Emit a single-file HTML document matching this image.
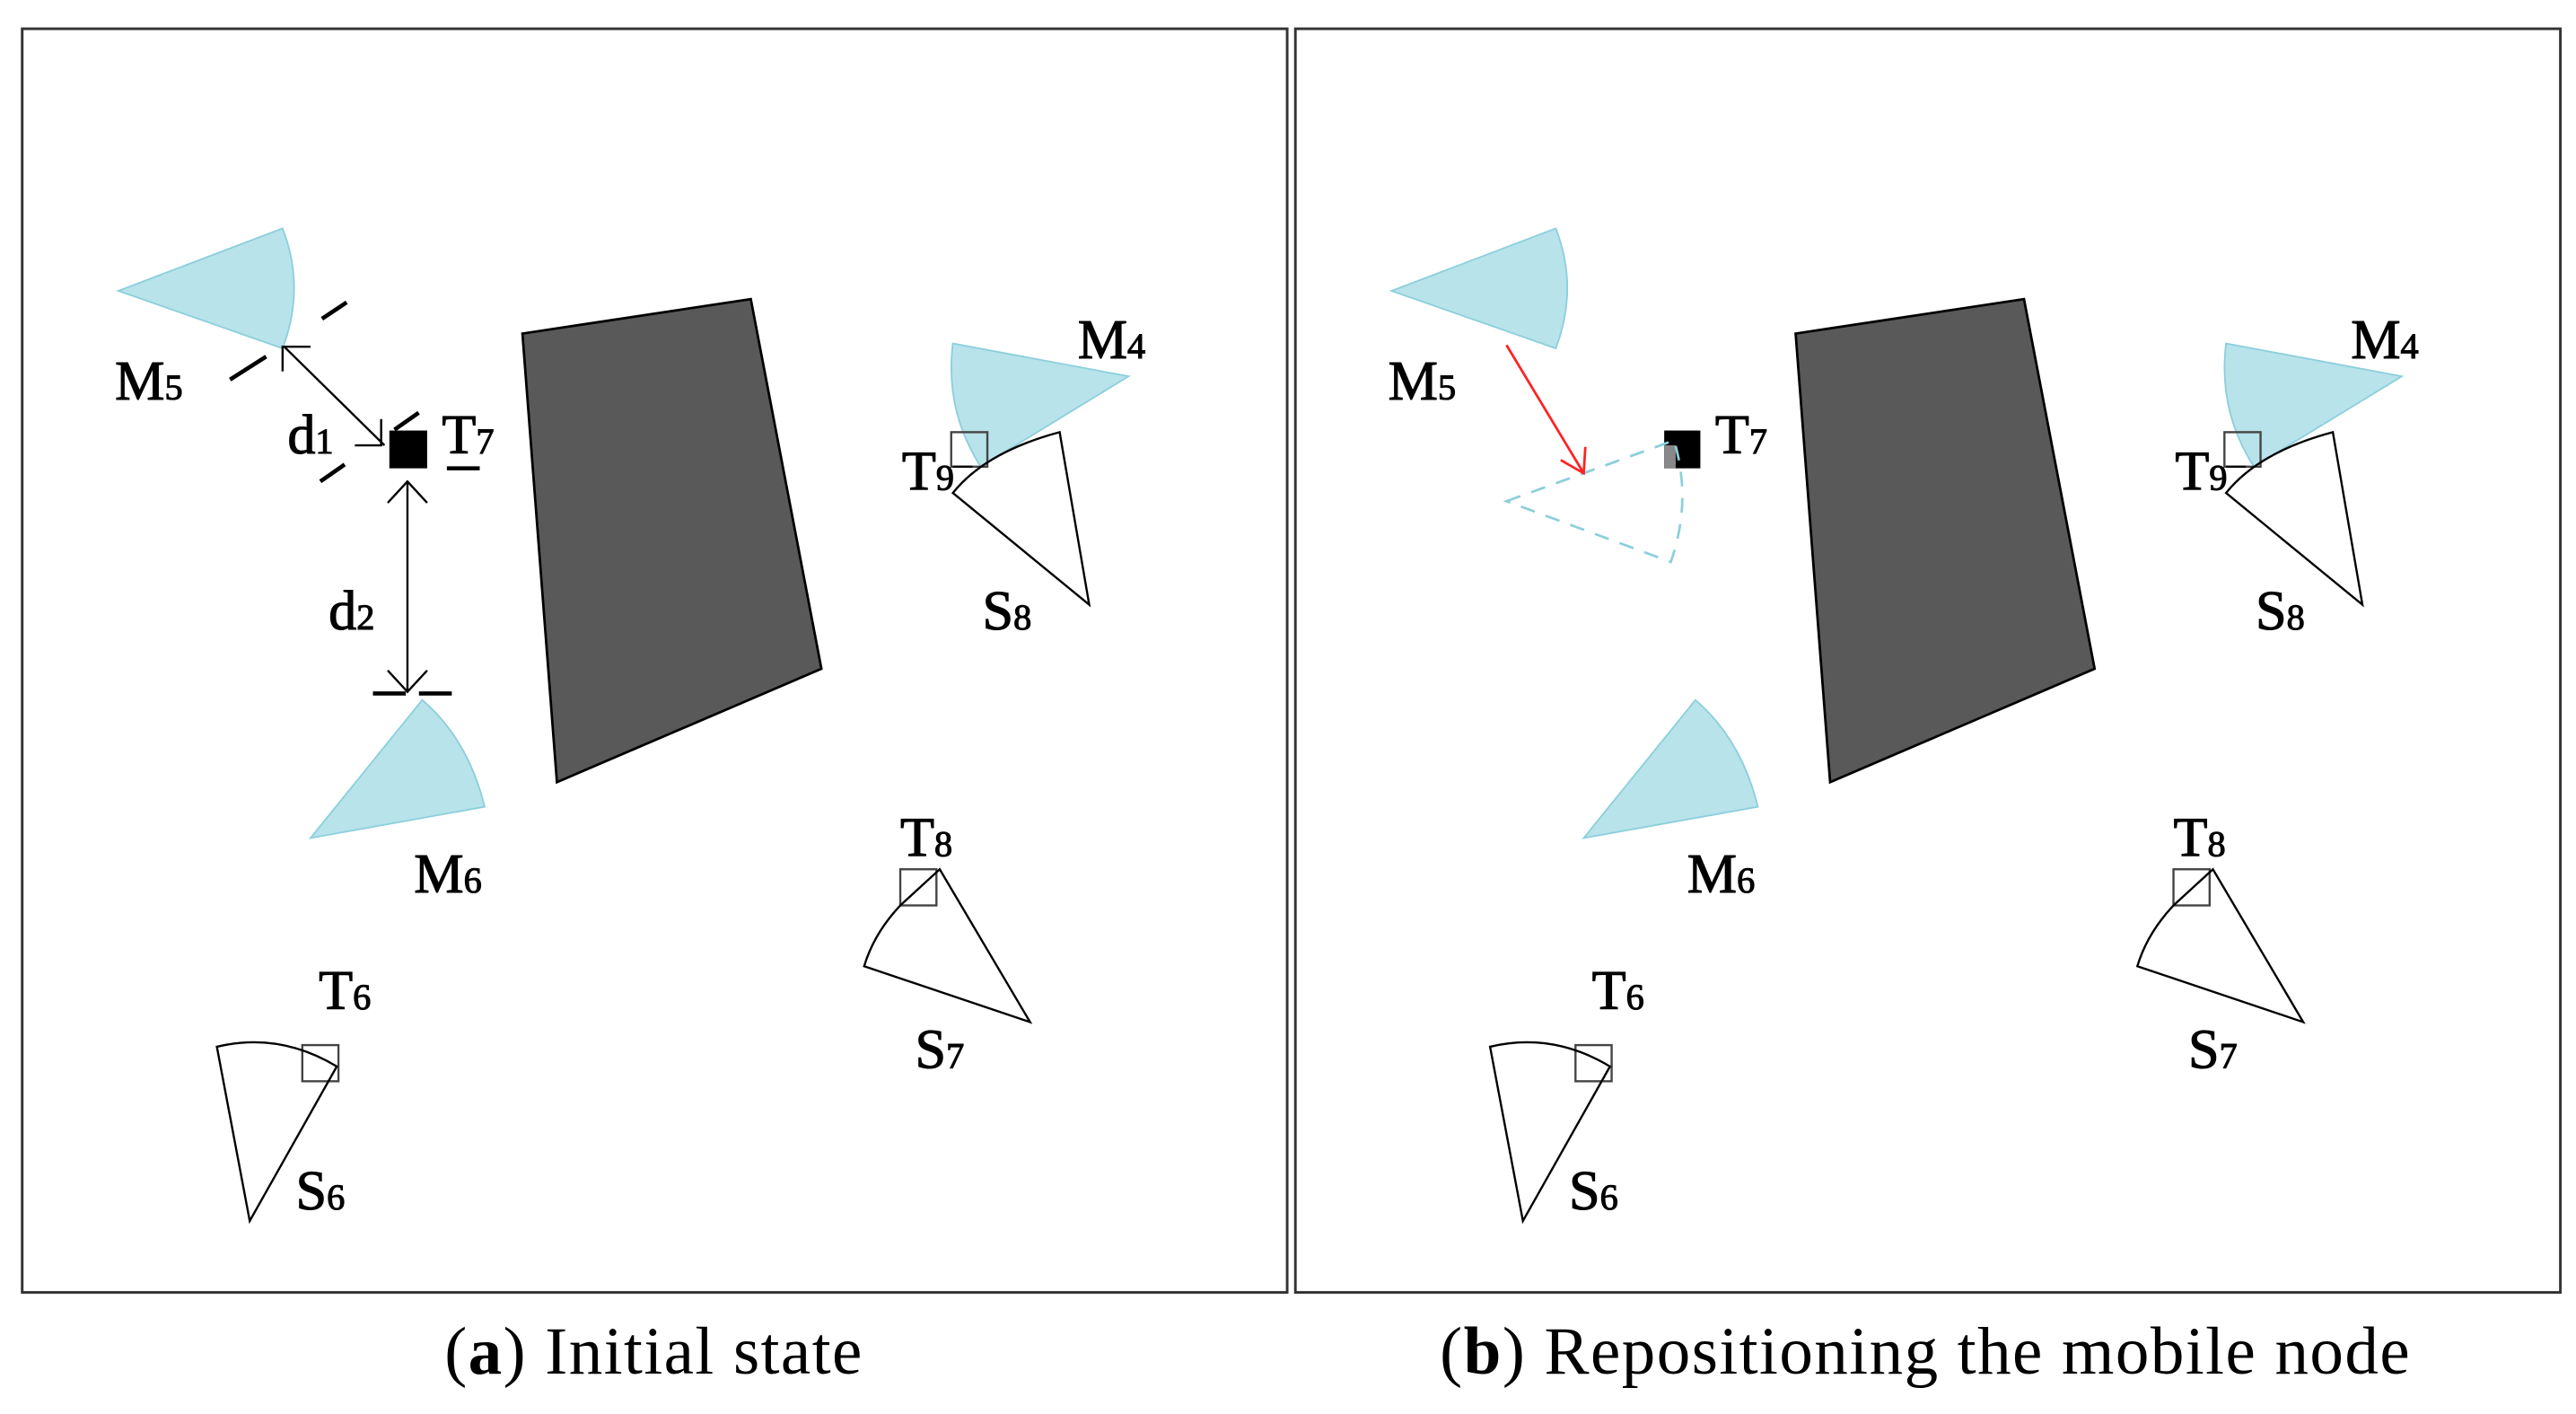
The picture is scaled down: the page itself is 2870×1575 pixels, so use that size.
<!DOCTYPE html>
<html><head><meta charset="utf-8"><style>html,body{margin:0;padding:0;background:#fff}svg{display:block}</style></head>
<body>
<svg width="2870" height="1575" viewBox="0 0 1568 860.5" xmlns="http://www.w3.org/2000/svg" font-family="Liberation Serif, serif">
<defs>
<g id="common">
  <polygon points="318,203 457,182 500,407 339,476" fill="#595959" stroke="#000" stroke-width="1.5"/>
  <path d="M189,510 L257,426 Q285,450 295,491 Z" fill="#b8e3ea" stroke="#8ccfdc" stroke-width="1"/>
  <path d="M687,229 L580,209 Q575,250 597,284 Z" fill="#b8e3ea" stroke="#8ccfdc" stroke-width="1"/>
  <rect x="579" y="263" width="22" height="21" fill="none" stroke="#444" stroke-width="1.3"/>
  <line x1="580" y1="284" x2="592" y2="284" stroke="#000" stroke-width="1.3"/>
  <path d="M645,263 Q600,275 580,300 L663,368 Z" fill="none" stroke="#000" stroke-width="1.3"/>
  <rect x="548" y="529" width="22" height="22" fill="none" stroke="#444" stroke-width="1.3"/>
  <path d="M572,529 L548,551 Q532,568 526,588 L627,622 Z" fill="none" stroke="#000" stroke-width="1.3"/>
  <rect x="184" y="636" width="22" height="22" fill="none" stroke="#444" stroke-width="1.3"/>
  <path d="M132,637 Q170,628 205,649 L152,743 Z" fill="none" stroke="#000" stroke-width="1.3"/>
  <g font-size="34" fill="#000" stroke="#000" stroke-width="0.6">
    <text x="70" y="243">M<tspan font-size="22">5</tspan></text>
    <text x="252" y="543">M<tspan font-size="22">6</tspan></text>
    <text x="656" y="218">M<tspan font-size="22">4</tspan></text>
    <text x="549" y="298">T<tspan font-size="22">9</tspan></text>
    <text x="598" y="383">S<tspan font-size="22">8</tspan></text>
    <text x="548" y="521">T<tspan font-size="22">8</tspan></text>
    <text x="557" y="650">S<tspan font-size="22">7</tspan></text>
    <text x="194" y="614">T<tspan font-size="22">6</tspan></text>
    <text x="180" y="736">S<tspan font-size="22">6</tspan></text>
    <text x="269" y="276">T<tspan font-size="22">7</tspan></text>
  </g>
  <path d="M72,177 L172,139 Q186,175 172,212 Z" fill="#b8e3ea" stroke="#8ccfdc" stroke-width="1"/>
</g>
</defs>
<rect x="13.5" y="17.5" width="770" height="769" fill="#fff" stroke="#333" stroke-width="1.6"/>
<use href="#common"/>
<g stroke="#000" stroke-width="1.3" fill="none">
  <line x1="140" y1="231" x2="162" y2="217" stroke-width="2.5"/>
  <line x1="196" y1="194" x2="211" y2="184" stroke-width="2.5"/>
  <line x1="195" y1="293" x2="268" y2="242" stroke-dasharray="18,37" stroke-width="2.5"/>
  <line x1="227" y1="422" x2="283" y2="422" stroke-dasharray="20,8" stroke-width="2.5"/>
  <line x1="272" y1="285" x2="292" y2="285" stroke-width="2.5"/>
  <line x1="173" y1="211" x2="234" y2="271"/>
  <polyline points="172,226 172,211 189,211"/>
  <polyline points="232,255 232,271 216,271"/>
  <line x1="248" y1="293" x2="248" y2="421"/>
  <polyline points="236,306 248,293 260,306"/>
  <polyline points="236,408 248,421 260,408"/>
</g>
<rect x="237" y="262" width="23" height="23" fill="#000"/>
<g font-size="34" stroke="#000" stroke-width="0.6"><text x="175" y="276">d<tspan font-size="22">1</tspan></text><text x="200" y="383">d<tspan font-size="22">2</tspan></text></g>
<text x="398" y="836" font-size="41" letter-spacing="0.8" text-anchor="middle">(<tspan font-weight="bold">a</tspan>) Initial state</text>

<rect x="788.5" y="17.5" width="770" height="769" fill="#fff" stroke="#333" stroke-width="1.6"/>
<use href="#common" x="775"/>
<rect x="1013" y="262" width="22" height="23" fill="#000"/>
<rect x="1013" y="271" width="7" height="14" fill="#888"/>
<path d="M917,305 L1019,268 Q1030,305 1017,342 Z" fill="none" stroke="#8ccfdc" stroke-width="1.5" stroke-dasharray="9,7"/>
<g stroke="#f22" stroke-width="1.5" fill="none">
  <line x1="917" y1="210" x2="964" y2="288"/>
  <polyline points="950,280 964,288 965,272"/>
</g>
<text x="1172" y="836" font-size="41" letter-spacing="0.8" text-anchor="middle">(<tspan font-weight="bold">b</tspan>) Repositioning the mobile node</text>
</svg>
</body></html>
